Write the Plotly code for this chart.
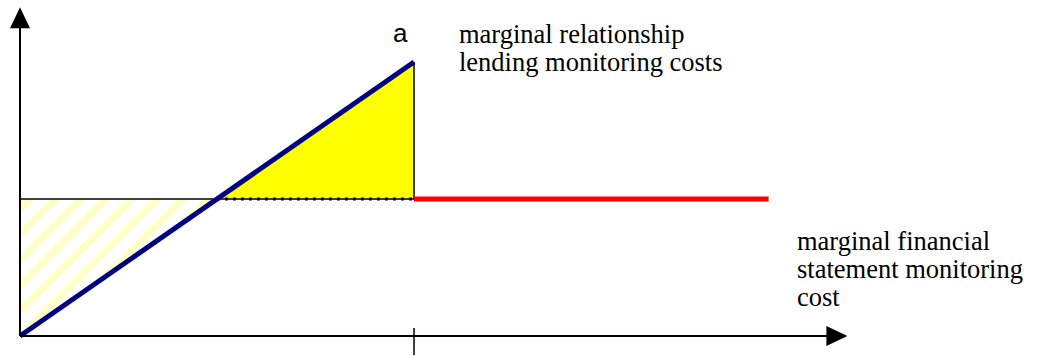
import plotly.graph_objects as go

# ---- data (model units) ----
q_a = 10.0                    # quantity at point a (axis tick)
fs_cost = 1.0                 # marginal financial statement monitoring cost (flat)
fs_x = [q_a, 19.0]            # red segment extent
rl_x = [0.0, q_a]             # relationship lending marginal cost line
rl_y = [0.0, 2.0]
x_axis_end = 21.0
y_axis_end = 2.40
cross_x = fs_cost / (rl_y[1] / rl_x[1])   # where the two cost curves cross

labels_rl = ["marginal relationship", "lending monitoring costs"]
labels_fs = ["marginal financial", "statement monitoring", "cost"]

# ---- geometry (pixels) ----
W, H = 1045, 356
x0_px, y0_px = 20, 336
px_x = 39.4      # pixels per x unit
px_y = 137.0     # pixels per y unit
xr = [-x0_px / px_x, (W - x0_px) / px_x]
yr = [-(H - y0_px) / px_y, y0_px / px_y]

def px2x(p): return (p - x0_px) / px_x
def px2y(p): return (y0_px - p) / px_y

fig = go.Figure()

# hatched region (left of crossing, below flat cost)
fig.add_trace(go.Scatter(
    x=[0, cross_x, 0, 0], y=[fs_cost, fs_cost, 0, fs_cost],
    fill="toself", mode="none", fillcolor="white",
    fillpattern=dict(shape="/", fgcolor="#FFFF90", bgcolor="white", size=18, solidity=0.4),
    hoverinfo="skip", showlegend=False))

# yellow triangle
fig.add_trace(go.Scatter(
    x=[cross_x, q_a, q_a, cross_x], y=[fs_cost, rl_y[1], fs_cost, fs_cost],
    fill="toself", mode="none", fillcolor="#FFFF00",
    hoverinfo="skip", showlegend=False))

# thin black lines
fig.add_trace(go.Scatter(x=[0, q_a], y=[fs_cost, fs_cost], mode="lines",
                         line=dict(color="black", width=1.5), hoverinfo="skip", showlegend=False))
fig.add_trace(go.Scatter(x=[q_a, q_a], y=[fs_cost, rl_y[1]], mode="lines",
                         line=dict(color="black", width=1.5), hoverinfo="skip", showlegend=False))
# dotted blue
fig.add_trace(go.Scatter(x=[cross_x, q_a], y=[fs_cost, fs_cost], mode="lines",
                         line=dict(color="#000080", width=3, dash="3px,5px"), hoverinfo="skip", showlegend=False))
# red flat
fig.add_trace(go.Scatter(x=fs_x, y=[fs_cost, fs_cost], mode="lines",
                         line=dict(color="#FF0000", width=5), hoverinfo="skip", showlegend=False))
# blue rising
fig.add_trace(go.Scatter(x=rl_x, y=rl_y, mode="lines",
                         line=dict(color="#000080", width=5), hoverinfo="skip", showlegend=False))

# axes
fig.add_trace(go.Scatter(x=[0, x_axis_end - 18 / px_x], y=[0, 0], mode="lines",
                         line=dict(color="black", width=2), hoverinfo="skip", showlegend=False))
fig.add_trace(go.Scatter(x=[0, 0], y=[0, y_axis_end - 18 / px_y], mode="lines",
                         line=dict(color="black", width=2), hoverinfo="skip", showlegend=False))
# arrowheads
ah_len, ah_half = 21, 10
fig.add_trace(go.Scatter(
    x=[x_axis_end, x_axis_end - ah_len / px_x, x_axis_end - ah_len / px_x, x_axis_end],
    y=[0, ah_half / px_y, -ah_half / px_y, 0],
    fill="toself", mode="none", fillcolor="black", hoverinfo="skip", showlegend=False))
fig.add_trace(go.Scatter(
    x=[0, ah_half / px_x, -ah_half / px_x, 0],
    y=[y_axis_end, y_axis_end - ah_len / px_y, y_axis_end - ah_len / px_y, y_axis_end],
    fill="toself", mode="none", fillcolor="black", hoverinfo="skip", showlegend=False))
# tick at a
fig.add_trace(go.Scatter(x=[q_a, q_a], y=[px2y(328), px2y(355)], mode="lines",
                         line=dict(color="black", width=1.5), hoverinfo="skip", showlegend=False))

annotations = []
annotations.append(dict(x=px2x(400), y=px2y(33), text="a", showarrow=False,
                        xanchor="center", yanchor="middle",
                        font=dict(family="Liberation Sans", size=26, color="black")))
for i, t in enumerate(labels_rl):
    annotations.append(dict(x=px2x(457), y=px2y(34 + 28 * i), text=t, showarrow=False,
                            xanchor="left", yanchor="middle",
                            font=dict(family="Liberation Serif", size=26.5, color="black")))
for i, t in enumerate(labels_fs):
    annotations.append(dict(x=px2x(795), y=px2y(241 + 28 * i), text=t, showarrow=False,
                            xanchor="left", yanchor="middle",
                            font=dict(family="Liberation Serif", size=26.5, color="black")))

fig.update_layout(
    width=W, height=H,
    margin=dict(l=0, r=0, t=0, b=0),
    paper_bgcolor="white", plot_bgcolor="white",
    xaxis=dict(range=xr, visible=False, fixedrange=True),
    yaxis=dict(range=yr, visible=False, fixedrange=True),
    annotations=annotations,
    showlegend=False,
)

fig.write_html("out.html", config={"displayModeBar": False},
               post_script="document.body.style.margin='0';document.body.style.overflow='hidden';")
